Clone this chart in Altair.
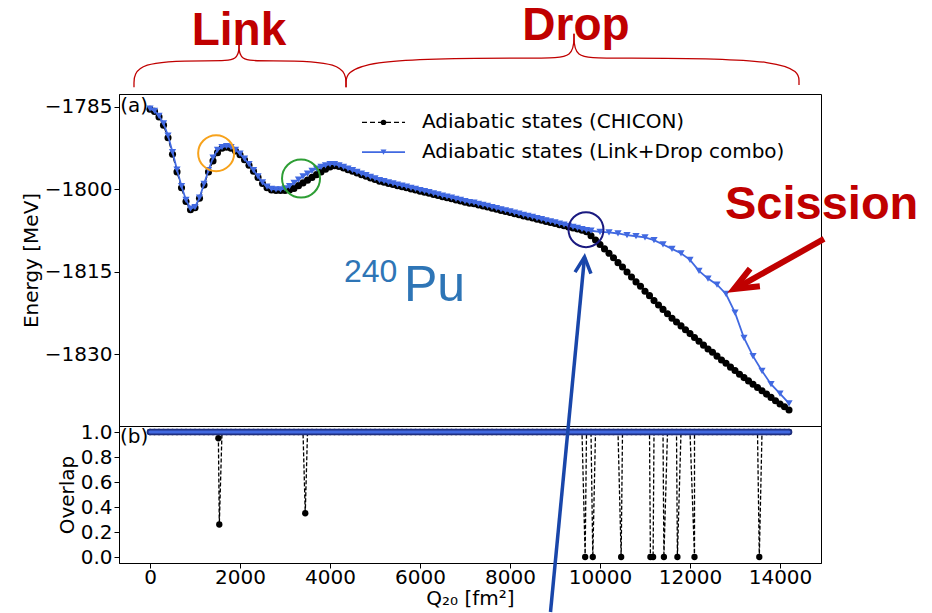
import altair as alt
import pandas as pd

# ---------------- data ----------------
# adiabatic states (CHICON), energy in MeV vs Q20 in fm^2
q_chicon = list(range(0, 14201, 100))
e_chicon = [
    -1785.4, -1785.8, -1786.8, -1788.3, -1790.6, -1793.6, -1796.8, -1799.7, -1802.2, -1803.7,
    -1803.3, -1801.6, -1799.2, -1796.8, -1794.8, -1793.3, -1792.5, -1792.3, -1792.5, -1793.0,
    -1793.7, -1794.6, -1795.6, -1796.7, -1797.8, -1798.9, -1799.7, -1800.1, -1800.2, -1800.2,
    -1800.2, -1800.1, -1799.8, -1799.3, -1798.8, -1798.3, -1797.8, -1797.3, -1796.8, -1796.3,
    -1795.9, -1795.7, -1795.8, -1796.1, -1796.4, -1796.7, -1797.0, -1797.3, -1797.6, -1797.9,
    -1798.2, -1798.5, -1798.7, -1798.9, -1799.1, -1799.3, -1799.5, -1799.7, -1799.9, -1800.1,
    -1800.3, -1800.5, -1800.7, -1800.9, -1801.1, -1801.3, -1801.5, -1801.7, -1801.9, -1802.1,
    -1802.3, -1802.5, -1802.6, -1802.8, -1803.0, -1803.2, -1803.4, -1803.6, -1803.8, -1804.0,
    -1804.2, -1804.4, -1804.6, -1804.8, -1805.0, -1805.2, -1805.4, -1805.6, -1805.8, -1806.0,
    -1806.2, -1806.4, -1806.6, -1806.8, -1807.0, -1807.2, -1807.4, -1807.7, -1808.4, -1809.2,
    -1810.0, -1810.8, -1811.6, -1812.4, -1813.3, -1814.1, -1815.0, -1815.9, -1816.8, -1817.6,
    -1818.5, -1819.3, -1820.2, -1821.0, -1821.8, -1822.6, -1823.4, -1824.1, -1824.8, -1825.5,
    -1826.2, -1826.9, -1827.6, -1828.3, -1829.0, -1829.6, -1830.3, -1831.0, -1831.6, -1832.3,
    -1832.9, -1833.6, -1834.2, -1834.8, -1835.4, -1836.0, -1836.6, -1837.2, -1837.8, -1838.4,
    -1839.0, -1839.5, -1840.1,
]

# adiabatic states (Link+Drop combo)
q_combo = list(range(0, 9801, 100)) + list(range(10000, 14201, 200))
e_combo = [
    -1785.3, -1785.7, -1786.6, -1788.0, -1790.2, -1793.2, -1796.4, -1799.4, -1801.9, -1803.5,
    -1803.2, -1801.5, -1799.0, -1796.5, -1794.2, -1792.8, -1792.3, -1792.1, -1792.3, -1792.8,
    -1793.5, -1794.4, -1795.4, -1796.5, -1797.6, -1798.7, -1799.5, -1799.9, -1800.0, -1800.0,
    -1799.8, -1799.4, -1798.8, -1798.2, -1797.6, -1797.1, -1796.6, -1796.2, -1795.9, -1795.6,
    -1795.4, -1795.4, -1795.6, -1795.9, -1796.2, -1796.5, -1796.8, -1797.1, -1797.4, -1797.7,
    -1798.0, -1798.3, -1798.5, -1798.7, -1798.9, -1799.1, -1799.3, -1799.5, -1799.7, -1799.9,
    -1800.1, -1800.3, -1800.5, -1800.7, -1800.9, -1801.1, -1801.3, -1801.5, -1801.7, -1801.9,
    -1802.1, -1802.3, -1802.4, -1802.6, -1802.8, -1803.0, -1803.2, -1803.4, -1803.6, -1803.8,
    -1804.0, -1804.2, -1804.4, -1804.6, -1804.8, -1805.0, -1805.2, -1805.4, -1805.6, -1805.8,
    -1806.0, -1806.2, -1806.4, -1806.6, -1806.8, -1807.0, -1807.2, -1807.4, -1807.5,
    -1807.7, -1807.8, -1808.0, -1808.3, -1808.5, -1808.7, -1809.2, -1810.0, -1810.8, -1811.6,
    -1812.8, -1814.8, -1816.2, -1817.3, -1819.0, -1822.4, -1827.0, -1830.3, -1833.0, -1835.4,
    -1837.1, -1838.9,
]

# overlaps: ~1 everywhere, except these drops of the CHICON states
dip_q = [1520, 1540, 3450, 9670, 9840, 10470, 11120, 11180, 11420, 11720, 12100, 13540]
dip_v = [0.95, 0.26, 0.35, 0.0, 0.0, 0.0, 0.0, 0.0, 0.0, 0.0, 0.0, 0.0]
ov_chicon = [1.0] * len(q_chicon)
ov_combo = [1.0] * len(q_combo)

# tick values
x_ticks = [0, 2000, 4000, 6000, 8000, 10000, 12000, 14000]
e_ticks = [-1830, -1815, -1800, -1785]
o_ticks = [0.0, 0.2, 0.4, 0.6, 0.8, 1.0]

# annotations (data coordinates)
circ_q = [1470, 3356, 9689]
circ_e = [-1793.4, -1798.0, -1807.3]
circ_c = ["#f7a21b", "#2e9e35", "#1a1a80"]
circ_s = [1296, 1444, 1225]

brace_id = ["l1"] * 5 + ["l2"] * 5 + ["d1"] * 5 + ["d2"] * 5
brace_q = [-356, -356, 1422, 1978, 1978,
           1978, 1978, 2533, 4356, 4356,
           4356, 4356, 8756, 9422, 9422,
           9422, 9422, 10089, 14422, 14422]
brace_e = [-1781.4, -1776.6, -1776.6, -1776.6, -1773.5,
           -1773.5, -1776.6, -1776.6, -1776.6, -1781.4,
           -1781.4, -1776.1, -1776.1, -1776.1, -1771.7,
           -1771.7, -1776.1, -1776.1, -1776.1, -1781.0]

# ---------------- scales / helpers ----------------
XS = alt.Scale(domain=[-689, 14911], nice=False, zero=False)
YT = alt.Scale(domain=[-1843.0, -1782.64], nice=False, zero=False)
YB = alt.Scale(domain=[-0.048, 1.048], nice=False, zero=False)

top_yaxis = alt.Axis(values=e_ticks, format="d", title="Energy [MeV]")
bot_yaxis = alt.Axis(values=o_ticks, format=".1f", title="Overlap")
bot_xaxis = alt.Axis(values=x_ticks, format="d", title="Q₂₀ [fm²]", labelPadding=-1, titlePadding=1)


def xt():
    return alt.X("q:Q", scale=XS, axis=None)


def yt():
    return alt.Y("e:Q", scale=YT, axis=top_yaxis)


def xb():
    return alt.X("q:Q", scale=XS, axis=bot_xaxis)


def yb():
    return alt.Y("v:Q", scale=YB, axis=bot_yaxis)


RED = "#c00000"
BLUE = "#4169e1"

df_ch = pd.DataFrame({"q": q_chicon, "e": e_chicon})
df_co = pd.DataFrame({"q": q_combo, "e": e_combo})

# ---------------- top panel ----------------
ch_line = alt.Chart(df_ch).mark_line(color="black", strokeWidth=1.3, strokeDash=[5, 3]).encode(x=xt(), y=yt())
ch_pts = alt.Chart(df_ch).mark_point(shape="circle", filled=True, size=50, color="black", opacity=1).encode(x=xt(), y=yt())
co_line = alt.Chart(df_co).mark_line(color=BLUE, strokeWidth=1.8).encode(x=xt(), y=yt())
co_pts = alt.Chart(df_co).mark_point(shape="triangle-down", filled=True, size=52, color=BLUE, opacity=1).encode(x=xt(), y=yt())

circles = alt.Chart(pd.DataFrame({"q": circ_q, "e": circ_e, "c": circ_c, "s": circ_s})).mark_point(
    shape="circle", filled=False, strokeWidth=2, opacity=1
).encode(x=xt(), y=yt(), color=alt.Color("c:N", scale=None), size=alt.Size("s:Q", scale=None))

# legend built by hand
leg_q = [4711, 5667, 4711, 5667]
leg_e = [-1787.8, -1787.8, -1793.2, -1793.2]
leg_s = ["a", "a", "b", "b"]
df_leg = pd.DataFrame({"q": leg_q, "e": leg_e, "s": leg_s})
leg_l1 = alt.Chart(df_leg[df_leg.s == "a"]).mark_line(color="black", strokeWidth=1.3, strokeDash=[5, 3]).encode(x=xt(), y=yt())
leg_l2 = alt.Chart(df_leg[df_leg.s == "b"]).mark_line(color=BLUE, strokeWidth=1.8).encode(x=xt(), y=yt())
leg_p1 = alt.Chart(pd.DataFrame({"q": [5189], "e": [-1787.8]})).mark_point(shape="circle", filled=True, size=30, color="black", opacity=1).encode(x=xt(), y=yt())
leg_p2 = alt.Chart(pd.DataFrame({"q": [5189], "e": [-1793.2]})).mark_point(shape="triangle-down", filled=True, size=36, color=BLUE, opacity=1).encode(x=xt(), y=yt())
leg_t = alt.Chart(pd.DataFrame({"q": [6044, 6044], "e": [-1787.8, -1793.2],
                                "t": ["Adiabatic states (CHICON)", "Adiabatic states (Link+Drop combo)"]})).mark_text(
    align="left", baseline="middle", fontSize=20, font="DejaVu Sans", color="black"
).encode(x=xt(), y=yt(), text="t:N")


def label(txt, q, e, **kw):
    return alt.Chart(pd.DataFrame({"q": [q], "e": [e]})).mark_text(text=txt, **kw).encode(x=xt(), y=yt())


lab_a = label("(a)", -660, -1784.8, align="left", baseline="middle", fontSize=20, font="DejaVu Sans", color="black")
lab_link = label("Link", 1978, -1773.7, align="center", baseline="alphabetic", fontSize=46, fontWeight="bold", font="Liberation Sans", color=RED)
lab_drop = label("Drop", 9467, -1772.8, align="center", baseline="alphabetic", fontSize=46, fontWeight="bold", font="Liberation Sans", color=RED)
lab_sc = label("Scission", 12778, -1805.4, align="left", baseline="alphabetic", fontSize=47, fontWeight="bold", font="Liberation Sans", color=RED)
lab_240 = label("240", 4311, -1816.8, align="left", baseline="alphabetic", fontSize=32, font="Liberation Sans", color="#2e75b6")
lab_pu = label("Pu", 5644, -1820.3, align="left", baseline="alphabetic", fontSize=50, font="Liberation Sans", color="#2e75b6")

df_br = pd.DataFrame({"q": brace_q, "e": brace_e, "id": brace_id, "o": list(range(len(brace_q)))})
braces = alt.Chart(df_br).mark_line(color=RED, strokeWidth=1.3, interpolate="basis").encode(
    x=xt(), y=yt(), detail="id:N", order="o:Q")

red_shaft = alt.Chart(pd.DataFrame({"q": [14978, 13111], "e": [-1809.0, -1817.55], "o": [0, 1]})).mark_line(
    color=RED, strokeWidth=6).encode(x=xt(), y=yt(), order="o:Q")
red_head = alt.Chart(pd.DataFrame({"q": [12978], "e": [-1818.1]})).mark_point(
    shape="M-0.42,1L0,0L0.42,1", filled=False, size=2304, angle=241, color=RED, strokeWidth=6,
    opacity=1, strokeJoin="miter", strokeCap="butt").encode(x=xt(), y=yt())

top = alt.layer(ch_line, ch_pts, co_line, co_pts, circles, leg_l1, leg_l2, leg_p1, leg_p2, leg_t,
                lab_a, lab_link, lab_drop, lab_sc, lab_240, lab_pu, braces, red_shaft, red_head
                ).properties(width=702, height=332)

# ---------------- bottom panel ----------------
ov_q = q_chicon + dip_q
ov_v = ov_chicon + dip_v
df_ov = pd.DataFrame({"q": ov_q, "v": ov_v}).sort_values("q").reset_index(drop=True)
df_ov["o"] = range(len(df_ov))
df_ovc = pd.DataFrame({"q": q_combo, "v": ov_combo})

ov_line = alt.Chart(df_ov).mark_line(color="black", strokeWidth=1.3, strokeDash=[4, 2]).encode(x=xb(), y=yb(), order="o:Q")
ov_pts = alt.Chart(df_ov).mark_point(shape="circle", filled=True, size=40, color="black", opacity=1).encode(x=xb(), y=yb())
ovc_edge = alt.Chart(df_ovc).mark_line(color="#1f2f80", strokeWidth=6.5, strokeCap="round").encode(x=xb(), y=yb())
ovc_line = alt.Chart(df_ovc).mark_line(color=BLUE, strokeWidth=3, strokeCap="round").encode(x=xb(), y=yb())
lab_b = alt.Chart(pd.DataFrame({"q": [-668], "v": [0.96]})).mark_text(
    text="(b)", align="left", baseline="middle", fontSize=20, font="DejaVu Sans", color="black").encode(x=xb(), y=yb())

blue_shaft = alt.Chart(pd.DataFrame({"q": [8900, 9656], "v": [-0.44, 2.40], "o": [0, 1]})).mark_line(
    color="#1946aa", strokeWidth=3.5).encode(x=xb(), y=yb(), order="o:Q")
blue_head = alt.Chart(pd.DataFrame({"q": [9656], "v": [2.40]})).mark_point(
    shape="M-0.5,1L0,0L0.5,1", filled=False, size=1024, angle=5.5, color="#1946aa", strokeWidth=3.5,
    opacity=1, strokeJoin="miter", strokeCap="butt").encode(x=xb(), y=yb())

bottom = alt.layer(ov_line, ov_pts, ovc_edge, ovc_line, lab_b, blue_shaft, blue_head).properties(width=702, height=137)

chart = alt.vconcat(top, bottom, spacing=0, bounds="flush").properties(
    padding={"left": 20, "top": 2, "right": 5, "bottom": 0}
).configure_axis(
    labelFont="DejaVu Sans", titleFont="DejaVu Sans", labelFontSize=20, titleFontSize=20,
    titleFontWeight="normal", labelColor="black", titleColor="black", tickColor="black",
    domainColor="black", tickSize=5, tickWidth=1, domainWidth=1, grid=False,
    labelPadding=2, titlePadding=3, labelOverlap=False
).configure_view(stroke="black", strokeWidth=1)

chart.save("out.html", embed_options={"renderer": "svg", "actions": False})
